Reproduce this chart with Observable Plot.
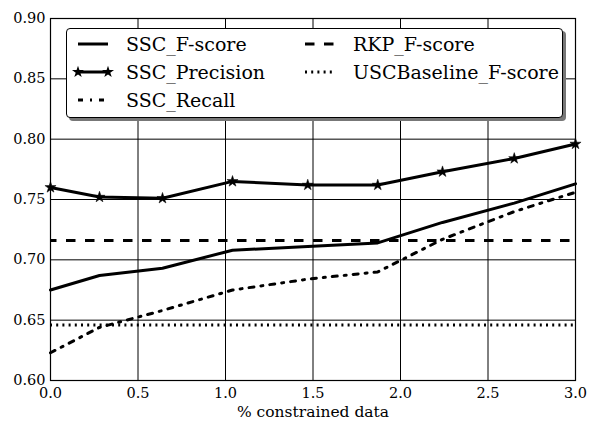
<!DOCTYPE html>
<html><head><meta charset="utf-8">
<script src="https://cdn.jsdelivr.net/npm/d3@7"></script>
<script src="https://cdn.jsdelivr.net/npm/@observablehq/plot@0.6"></script>
<style>
body{margin:0;background:#fff;}
#wrap{position:relative;width:591px;height:421px;overflow:hidden;font-family:"DejaVu Serif","Liberation Serif",serif;}
#wrap svg text{font-family:"DejaVu Serif","Liberation Serif",serif;}
#legend{position:absolute;left:66px;top:28px;width:495px;height:88px;border:1.2px solid #000;border-radius:4px;background:#fff;box-shadow:3px 3px 0 #777;}
</style></head>
<body><div id="wrap"></div>
<script>
const xs = [0, 0.28, 0.64, 1.04, 1.47, 1.87, 2.24, 2.65, 3.0];
const fscore = [0.675, 0.687, 0.693, 0.708, 0.711, 0.714, 0.731, 0.747, 0.763];
const precision = [0.760, 0.752, 0.751, 0.765, 0.762, 0.762, 0.773, 0.784, 0.796];
const recall = [0.623, 0.644, 0.658, 0.675, 0.684, 0.690, 0.717, 0.740, 0.756];
const rkpF = 0.716;
const uscF = 0.646;
const xTicks = [0, 0.5, 1.0, 1.5, 2.0, 2.5, 3.0];
const yTicks = [0.60, 0.65, 0.70, 0.75, 0.80, 0.85, 0.90];
const seriesNames = ["SSC_F-score", "SSC_Precision", "SSC_Recall", "RKP_F-score", "USCBaseline_F-score"];
const xLabel = "% constrained data";

const styles = {
  "SSC_F-score": {dash: null, marker: false},
  "SSC_Precision": {dash: null, marker: true},
  "SSC_Recall": {dash: "5,7,2,7", marker: false},
  "RKP_F-score": {dash: "9.5,9.5", marker: false},
  "USCBaseline_F-score": {dash: "2,4.2", marker: false}
};

const toRows = (vals) => xs.map((x, i) => ({x, y: vals[i]}));

const chart = Plot.plot({
  width: 591, height: 421,
  marginLeft: 50, marginRight: 16, marginTop: 18, marginBottom: 41,
  style: {fontFamily: "'DejaVu Serif', 'Liberation Serif', serif", fontSize: "14.5px", color: "#000", background: "#fff"},
  x: {domain: [0, 3]},
  y: {domain: [0.6, 0.9]},
  marks: [
    Plot.gridX(xTicks, {stroke: "#000", strokeOpacity: 1, strokeWidth: 1}),
    Plot.gridY(yTicks, {stroke: "#000", strokeOpacity: 1, strokeWidth: 1}),
    Plot.axisX(xTicks, {tickSize: 0, tickPadding: 7.5, tickFormat: d3.format(".1f"), fontSize: 14.5, label: null}),
    Plot.axisY(yTicks, {tickSize: 0, tickPadding: 5, tickFormat: d3.format(".2f"), fontSize: 14.5, label: null}),
    Plot.text([xLabel], {frameAnchor: "bottom", text: d => d, dy: 25, fontSize: 15.5, lineAnchor: "top"}),
    Plot.ruleY([uscF], {stroke: "#000", strokeWidth: 3, strokeDasharray: styles["USCBaseline_F-score"].dash}),
    Plot.ruleY([rkpF], {stroke: "#000", strokeWidth: 3, strokeDasharray: styles["RKP_F-score"].dash, strokeDashoffset: 3}),
    Plot.line(toRows(recall), {x: "x", y: "y", stroke: "#000", strokeWidth: 3, strokeDasharray: styles["SSC_Recall"].dash}),
    Plot.line(toRows(fscore), {x: "x", y: "y", stroke: "#000", strokeWidth: 3}),
    Plot.line(toRows(precision), {x: "x", y: "y", stroke: "#000", strokeWidth: 3}),
    Plot.dot(toRows(precision), {x: "x", y: "y", symbol: "star", r: 3.5, fill: "#000", stroke: "#000", strokeWidth: 0.5}),
    Plot.frame({stroke: "#000", strokeWidth: 1.2})
  ]
});

const wrap = document.getElementById("wrap");
wrap.appendChild(chart);

// Legend
const legend = document.createElement("div");
legend.id = "legend";
wrap.appendChild(legend);
const ns = "http://www.w3.org/2000/svg";
const lsvg = document.createElementNS(ns, "svg");
lsvg.setAttribute("width", 495); lsvg.setAttribute("height", 88);
lsvg.style.position = "absolute"; lsvg.style.left = "0"; lsvg.style.top = "0";
legend.appendChild(lsvg);
const cols = [{hx: 11, tx: 59}, {hx: 238, tx: 286}];
seriesNames.forEach((name, i) => {
  const col = cols[i < 3 ? 0 : 1];
  const row = i < 3 ? i : i - 3;
  const cy = 15 + row * 28;
  const st = styles[name];
  const line = document.createElementNS(ns, "line");
  line.setAttribute("x1", col.hx); line.setAttribute("x2", col.hx + 30);
  line.setAttribute("y1", cy); line.setAttribute("y2", cy);
  line.setAttribute("stroke", "#000"); line.setAttribute("stroke-width", 3);
  if (st.dash) line.setAttribute("stroke-dasharray", st.dash);
  lsvg.appendChild(line);
  if (st.marker) {
    [col.hx, col.hx + 30].forEach(px => {
      const p = document.createElementNS(ns, "path");
      p.setAttribute("d", d3.symbol(d3.symbolStar, 45)());
      p.setAttribute("transform", `translate(${px},${cy})`);
      p.setAttribute("fill", "#000");
      lsvg.appendChild(p);
    });
  }
  const t = document.createElementNS(ns, "text");
  t.setAttribute("x", col.tx); t.setAttribute("y", cy);
  t.setAttribute("dy", "0.35em");
  t.setAttribute("font-size", "19px");
  t.textContent = name;
  lsvg.appendChild(t);
});
</script></body></html>
